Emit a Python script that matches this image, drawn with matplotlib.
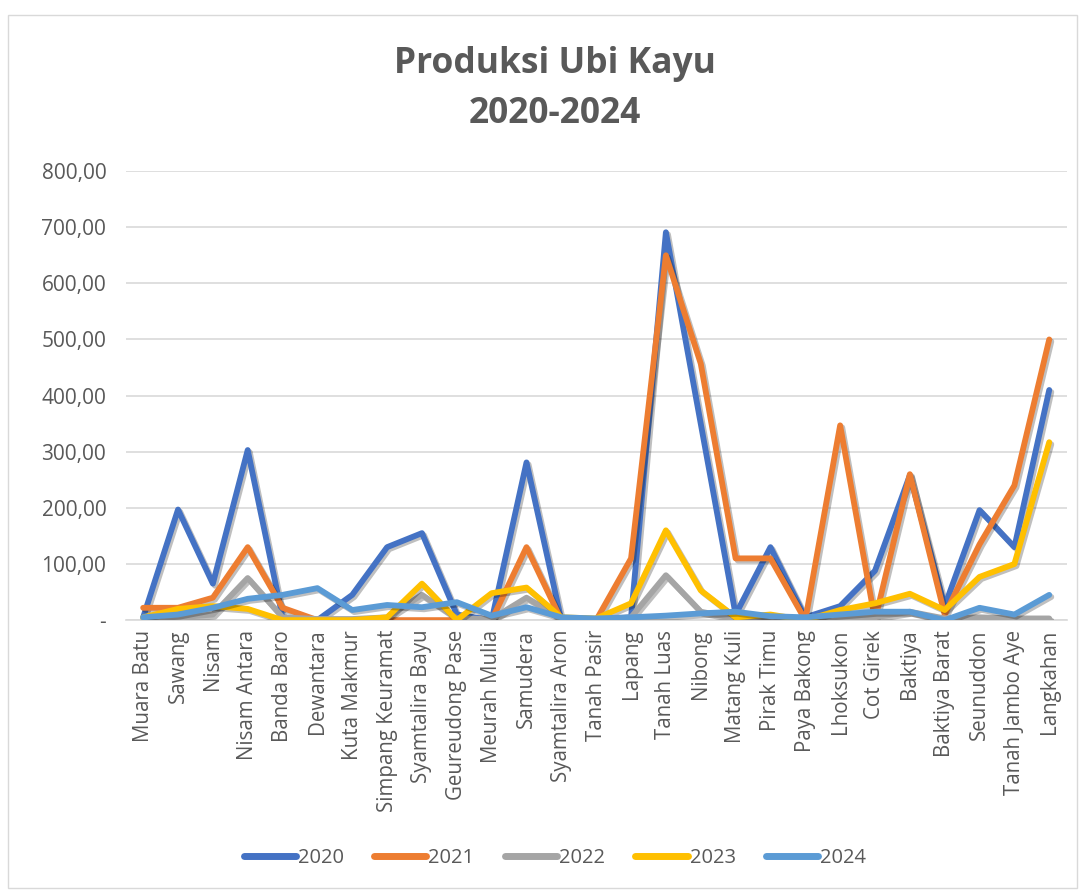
import matplotlib
matplotlib.use("Agg")
import matplotlib.pyplot as plt
import matplotlib.patheffects as pe
from matplotlib.patches import Rectangle

categories = ["Muara Batu", "Sawang", "Nisam", "Nisam Antara", "Banda Baro", "Dewantara",
              "Kuta Makmur", "Simpang Keuramat", "Syamtalira Bayu", "Geureudong Pase",
              "Meurah Mulia", "Samudera", "Syamtalira Aron", "Tanah Pasir", "Lapang",
              "Tanah Luas", "Nibong", "Matang Kuli", "Pirak Timu", "Paya Bakong",
              "Lhoksukon", "Cot Girek", "Baktiya", "Baktiya Barat", "Seunuddon",
              "Tanah Jambo Aye", "Langkahan"]

y2020 = [5, 197, 65, 303, 5, 0, 45, 130, 155, 10, 0, 281, 0, 0, 5,
         691, 350, 10, 130, 5, 25, 88, 258, 25, 196, 130, 410]
y2021 = [22, 22, 40, 130, 22, 0, 0, 0, 0, 0, 0, 130, 0, 0, 110,
         650, 457, 110, 110, 0, 347, 0, 260, 10, 135, 240, 500]
y2022 = [3, 5, 10, 75, 5, 2, 2, 5, 45, 3, 2, 40, 2, 2, 5,
         80, 15, 3, 3, 2, 5, 5, 15, 3, 5, 3, 3]
y2023 = [5, 20, 25, 20, 0, 0, 0, 5, 65, 0, 48, 58, 5, 3, 30,
         160, 53, 5, 10, 0, 18, 30, 47, 18, 77, 100, 317]
y2024 = [5, 10, 22, 38, 45, 57, 18, 27, 23, 32, 8, 23, 5, 3, 5,
         8, 12, 15, 7, 5, 10, 15, 15, 0, 22, 10, 45]

series = [("2020", y2020, "#4472C4"), ("2021", y2021, "#ED7D31"),
          ("2022", y2022, "#A5A5A5"), ("2023", y2023, "#FFC000"),
          ("2024", y2024, "#5B9BD5")]

yticks = [0, 100, 200, 300, 400, 500, 600, 700, 800]
ytick_labels = ["-", "100,00", "200,00", "300,00", "400,00", "500,00", "600,00", "700,00", "800,00"]

FONT = ["Open Sans", "DejaVu Sans"]
plt.rcParams['font.family'] = FONT
TXT = "#595959"

fig = plt.figure(figsize=(10.84, 8.91), dpi=100)
fig.patches.append(Rectangle((0.007, 0.003), 0.987, 0.98, transform=fig.transFigure,
                             fill=False, edgecolor="#D9D9D9", linewidth=1))
ax = fig.add_axes([0.116, 0.304, 0.868, 0.504])

x = list(range(len(categories)))
for name, vals, col in series:
    ax.plot(x, vals, color=col, lw=4.2, label=name, solid_joinstyle="round",
            solid_capstyle="round", zorder=3,
            path_effects=[pe.SimpleLineShadow(offset=(1.5, -1.5), shadow_color="black", alpha=0.25),
                          pe.Normal()])

ax.set_xlim(-0.5, len(categories) - 0.5)
ax.set_ylim(0, 800)
ax.set_yticks(yticks)
ax.set_yticklabels(ytick_labels, fontsize=15, color=TXT)
ax.set_xticks(x)
ax.set_xticklabels(categories, rotation=90, fontsize=14.8, color=TXT)
ax.tick_params(axis="both", length=0, pad=7)
ax.tick_params(axis="y", pad=14)
ax.grid(axis="y", color="#D9D9D9", lw=1.2)
ax.set_axisbelow(True)
for s in ["top", "right", "left"]:
    ax.spines[s].set_visible(False)
ax.spines["bottom"].set_color("#D9D9D9")
ax.spines["bottom"].set_linewidth(1.2)

fig.text(0.512, 0.900, "Produksi Ubi Kayu\n2020-2024", ha="center", va="center",
         fontsize=25.5, fontweight="bold", color=TXT, linespacing=1.5)

leg = fig.legend(loc="center", bbox_to_anchor=(0.512, 0.037), ncol=5, frameon=False,
                 fontsize=14.5, handlelength=2.6, handletextpad=0.1, columnspacing=1.5)
for t in leg.get_texts():
    t.set_color(TXT)
for h in leg.get_lines():
    h.set_linewidth(5)
    h.set_solid_capstyle("round")
    h.set_path_effects([])

fig.savefig("out.png", dpi=100)
